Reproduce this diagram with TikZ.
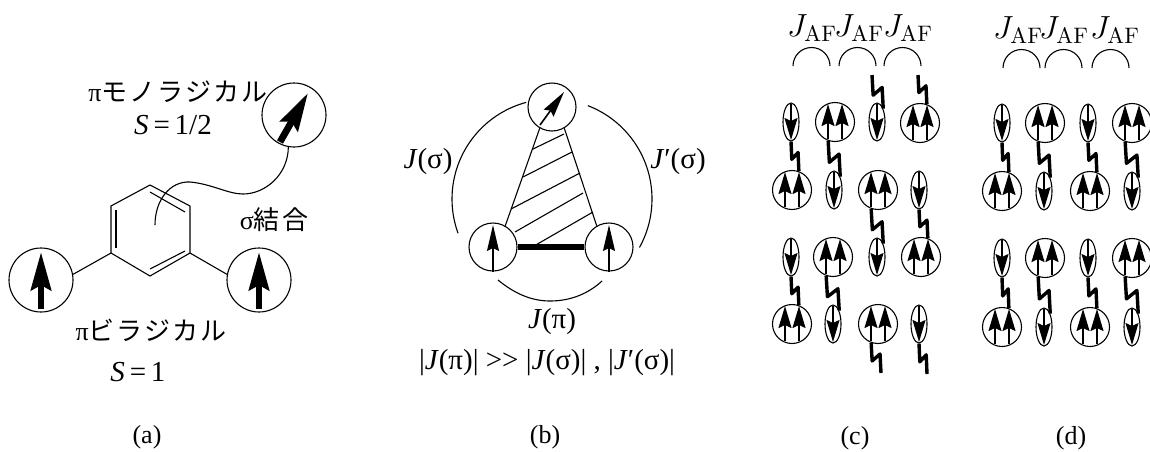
\documentclass[tikz,border=0pt]{standalone}
\usepackage{fix-cm}
\usepackage[no-math]{fontspec}
\setmainfont{Liberation Serif}
\newfontfamily\cjk[LetterSpace=8]{Noto Sans CJK JP}
\usetikzlibrary{arrows.meta,calc,shapes.geometric}

\tikzset{
    thinline/.style={line width=0.55pt},
    lbl/.style={inner sep=0pt,font=\fontsize{13}{15}\selectfont},
    biglbl/.style={inner sep=0pt,font=\fontsize{14.5}{17}\selectfont},
    exlbl/.style={inner sep=0pt,font=\fontsize{16}{18}\selectfont},
    bigsite/.style={circle,draw,thinline,inner sep=0pt,minimum size=32pt},
    midsite/.style={circle,draw,thinline,inner sep=0pt,minimum size=24pt},
    pairsite/.style={circle,draw,thinline,inner sep=0pt,minimum size=19.5pt},
    singlesite/.style={ellipse,draw,thinline,inner sep=0pt,minimum width=8pt,minimum height=19pt},
    bigspin/.style={line width=3.4pt,-{Stealth[length=19pt,width=10pt,inset=2.5pt]}},
    midspin/.style={line width=0.8pt,-{Stealth[length=13pt,width=6pt,inset=1.5pt]}},
    smallspin/.style={line width=0.8pt,-{Stealth[length=11pt,width=6.5pt,inset=1.5pt]}},
    spinbond/.style={line width=1.7pt,line join=round},
}

% Site with two spins up
\newcommand{\pairup}[3]{
    \node[pairsite] (#1) at (#2,#3) {};
    \draw[smallspin] ([shift={(-3.5pt,-8.5pt)}]#1.center) -- ++(0,-35);
    \draw[smallspin] ([shift={(3.5pt,-8.5pt)}]#1.center) -- ++(0,-35);
}
% Site with one spin down
\newcommand{\singledown}[3]{
    \node[singlesite] (#1) at (#2,#3) {};
    \draw[smallspin] ([yshift=9pt]#1.center) -- ++(0,36);
}
% Zigzag bond
\newcommand{\zigbond}[2]{
    \draw[spinbond] let \p1=(#1),\p2=(#2) in (\p1)
        -- ({\x1+.1*(\x2-\x1)},{\y1+.6*(\y2-\y1)})
        -- ({\x1+.9*(\x2-\x1)},{\y1+.37*(\y2-\y1)}) -- (\p2);
}

\begin{document}
\begin{tikzpicture}[x=0.5pt,y=-0.5pt]
    \useasboundingbox (0,0) rectangle (1150,451);

    % Define the points of the ring
    \coordinate (H1) at (150,185);
    \coordinate (H2) at (190,206);
    \coordinate (H3) at (190,253);
    \coordinate (H4) at (150,276);
    \coordinate (H5) at (111,253);
    \coordinate (H6) at (111,206);

    % Draw the ring
    \draw[thinline] (H1) -- (H2) -- (H3) -- (H4) -- (H5) -- (H6) -- cycle;
    \draw[thinline] (150,192) -- (185,212);
    \draw[thinline] (150,269) -- (185,251);
    \draw[thinline] (116,210) -- (116,248);

    % Draw the sites of (a)
    \node[bigsite] (siteL) at (41,280) {};
    \node[bigsite] (siteR) at (259,280) {};
    \node[bigsite] (siteT) at (294,115) {};
    \draw[bigspin] (41,309) -- (41,252);
    \draw[bigspin] (259,309) -- (259,252);
    \draw[bigspin] (280,142) -- (308,93);
    \draw[thinline] (H5) -- (siteL.10);
    \draw[thinline] (H3) -- (siteR.170);

    % Draw the sigma bond
    \coordinate (sigmaEnd) at (155,225);
    \draw[thinline] (siteT.260) .. controls (288,175) and (265,194) .. (243,194)
        .. controls (228,194) and (212,184) .. (190,182)
        .. controls (170,181) and (155,200) .. (sigmaEnd);

    % Place the labels of (a)
    \node[lbl] (monoLabel) at (178,92) {π{\cjk モノラジカル}};
    \node[biglbl] (monoSpin) at (173,125) {\textit{S}\,=\,1/2};
    \node[lbl] (sigmaLabel) at (274,220) {σ{\cjk 結合}};
    \node[lbl] (biLabel) at (151,330) {π{\cjk ビラジカル}};
    \node[biglbl] (biSpin) at (138,372) {\textit{S}\,=\,1};

    % Draw the sites of (b)
    \node[midsite] (triT) at (552,107) {};
    \node[midsite] (triL) at (493,247) {};
    \node[midsite] (triR) at (609,247) {};
    \draw[midspin] (540,125) -- (564,92);
    \draw[midspin] (493,272) -- (493,225);
    \draw[midspin] (609,272) -- (609,225);

    % Draw the triangle
    \draw[thinline] (triT.240) -- (triL.60);
    \draw[thinline] (triT.300) -- (triR.120);
    \draw[line width=3pt] (triL.east) -- (triR.west);
    \draw[thinline] (533,149) -- (564,134);
    \draw[thinline] (523,177) -- (572,152);
    \draw[thinline] (511,209) -- (580,173);
    \draw[thinline] (515,232) -- (583,193);
    \draw[thinline] (534,246) -- (593,212);

    % Draw the arcs of (b)
    \coordinate (triC) at (552,199);
    \draw[thinline] ([shift={(255:100)}]triC) arc[start angle=255,end angle=160,radius=100];
    \draw[thinline] ([shift={(-69:100)}]triC) arc[start angle=-69,end angle=29,radius=100];
    \draw[thinline] (498,280) .. controls (515,294) and (532,301) .. (550,301)
        .. controls (570,301) and (588,294) .. (602,281);

    % Place the labels of (b)
    \node[biglbl] (leftJ) at (428,162) {\textit{J}(σ)};
    \node[biglbl] (rightJ) at (678,162) {\textit{J}′(σ)};
    \node[biglbl] (lowJ) at (552,322) {\textit{J}(π)};
    \node[biglbl] (relation) at (547,363) {|\textit{J}(π)| >{}> |\textit{J}(σ)| , |\textit{J}′(σ)|};

    % Draw the sites of (c)
    \singledown{ca1}{791}{122}
    \pairup{ca2}{835}{122}
    \singledown{ca3}{877}{122}
    \pairup{ca4}{920}{123}
    \pairup{cb1}{792}{190}
    \singledown{cb2}{834}{190}
    \pairup{cb3}{878}{190}
    \singledown{cb4}{919}{190}
    \singledown{cc1}{791}{257}
    \pairup{cc2}{833}{257}
    \singledown{cc3}{877}{257}
    \pairup{cc4}{921}{257}
    \pairup{cd1}{792}{324}
    \singledown{cd2}{833}{324}
    \pairup{cd3}{878}{324}
    \singledown{cd4}{919}{324}

    % Draw the bonds of (c)
    \coordinate (topC3) at (872,75);
    \coordinate (topC4) at (918,75);
    \coordinate (lowC3) at (881,373);
    \coordinate (lowC4) at (927,374);
    \zigbond{topC3}{ca3.65}
    \zigbond{topC4}{ca4.70}
    \zigbond{ca1.south}{cb1.70}
    \zigbond{ca2.250}{cb2.65}
    \zigbond{cb3.250}{cc3.65}
    \zigbond{cb4.south}{cc4.70}
    \zigbond{cc1.south}{cd1.70}
    \zigbond{cc2.250}{cd2.65}
    \zigbond{cd3.250}{lowC3}
    \zigbond{cd4.south}{lowC4}

    % Draw the exchange arcs of (c)
    \draw[thinline] (793,66) arc[start angle=180,end angle=360,radius=18.5];
    \draw[thinline] (839,66) arc[start angle=180,end angle=360,radius=18.5];
    \draw[thinline] (884,66) arc[start angle=180,end angle=360,radius=18.5];
    \node[exlbl] (cJa) at (812,28) {$J_{\mathrm{AF}}$};
    \node[exlbl] (cJb) at (859,28) {$J_{\mathrm{AF}}$};
    \node[exlbl] (cJc) at (908,28) {$J_{\mathrm{AF}}$};

    % Draw the sites of (d)
    \singledown{da1}{1002}{123}
    \pairup{da2}{1045}{123}
    \singledown{da3}{1088}{123}
    \pairup{da4}{1132}{123}
    \pairup{db1}{1002}{191}
    \singledown{db2}{1044}{191}
    \pairup{db3}{1090}{191}
    \singledown{db4}{1132}{191}
    \singledown{dc1}{1002}{258}
    \pairup{dc2}{1045}{258}
    \singledown{dc3}{1088}{258}
    \pairup{dc4}{1132}{258}
    \pairup{dd1}{1002}{327}
    \singledown{dd2}{1044}{327}
    \pairup{dd3}{1090}{327}
    \singledown{dd4}{1132}{327}

    % Draw the bonds of (d)
    \zigbond{da1.south}{db1.70}
    \zigbond{da2.250}{db2.65}
    \zigbond{da3.south}{db3.70}
    \zigbond{da4.250}{db4.65}
    \zigbond{dc1.south}{dd1.70}
    \zigbond{dc2.250}{dd2.65}
    \zigbond{dc3.south}{dd3.70}
    \zigbond{dc4.250}{dd4.65}

    % Draw the exchange arcs of (d)
    \draw[thinline] (1003,68) arc[start angle=180,end angle=360,radius=18.5];
    \draw[thinline] (1045,68) arc[start angle=180,end angle=360,radius=18.5];
    \draw[thinline] (1092,68) arc[start angle=180,end angle=360,radius=18.5];
    \node[exlbl] (dJa) at (1018,30) {$J_{\mathrm{AF}}$};
    \node[exlbl] (dJb) at (1064,30) {$J_{\mathrm{AF}}$};
    \node[exlbl] (dJc) at (1115,30) {$J_{\mathrm{AF}}$};

    % Place the panel labels
    \node[lbl] (panelA) at (147,437) {(a)};
    \node[lbl] (panelB) at (545,437) {(b)};
    \node[lbl] (panelC) at (855,438) {(c)};
    \node[lbl] (panelD) at (1071,438) {(d)};
\end{tikzpicture}
\end{document}
